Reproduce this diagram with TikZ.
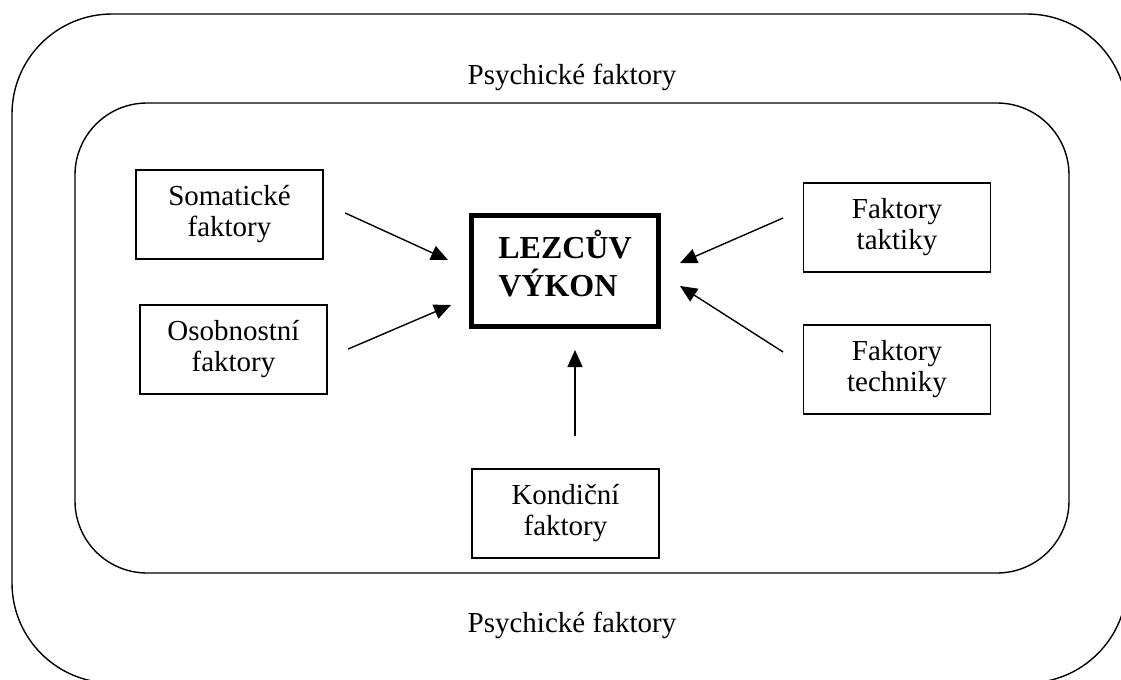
\documentclass[tikz,border=0pt]{standalone}
\usepackage{fontspec}
\setmainfont{Liberation Serif}
\usetikzlibrary{arrows.meta}

\begin{document}
\begin{tikzpicture}[x=0.5pt, y=-0.5pt, line width=0.7pt]
        \tikzstyle{every node}=[font=\fontsize{14.5pt}{15.5pt}\selectfont, align=center]
        \tikzstyle{factorbox}=[draw, minimum width=93.5pt, minimum height=44.5pt, inner sep=1pt]
        \tikzstyle{arr}=[-{Triangle[length=8.5pt, width=7.5pt]}]
        \useasboundingbox (0,0) rectangle (1121,680);
        \clip (0,0) rectangle (1121,680);
        % the two rounded frames
        \draw[rounded corners=50pt] (12,14) rectangle (1127,683);
        \draw[rounded corners=36pt] (75,103) rectangle (1069,573);
        \node (psychtop) at (572,77) {Psychické faktory};
        \node (psychbot) at (572,625) {Psychické faktory};
        % the boxes
        \node [draw, line width=2.5pt, minimum width=93.5pt, minimum height=55.5pt, text depth=8pt, align=left, font=\fontsize{16pt}{19pt}\selectfont\bfseries] (vykon) at (565,271) {LEZCŮV\\VÝKON};
        \node [factorbox] (soma) at (229.5,214.5) {Somatické\\faktory};
        \node [factorbox] (osob) at (233.5,349.5) {Osobnostní\\faktory};
        \node [factorbox] (takt) at (897,227.5) {Faktory\\taktiky};
        \node [factorbox] (tech) at (897,369.5) {Faktory\\techniky};
        \node [factorbox] (kond) at (565.5,513.5) {Kondiční\\faktory};
        % arrows into the centre
        \draw[arr] ([xshift=10.75pt, yshift=0.75pt]soma.east) -- ([xshift=-10.5pt, yshift=5.5pt]vykon.west);
        \draw[arr] ([xshift=10.25pt, yshift=0.25pt]osob.east) -- ([xshift=-9pt, yshift=-17pt]vykon.west);
        \draw[arr] ([xshift=-9.85pt, yshift=4.75pt]takt.west) -- ([xshift=9.5pt, yshift=4pt]vykon.east);
        \draw[arr] ([xshift=-9.85pt, yshift=8.75pt]tech.west) -- ([xshift=9.5pt, yshift=-7.5pt]vykon.east);
        \draw[arr] ([xshift=4.75pt, yshift=16pt]kond.north) -- ([xshift=5pt, yshift=-10.5pt]vykon.south);
\end{tikzpicture}
\end{document}
